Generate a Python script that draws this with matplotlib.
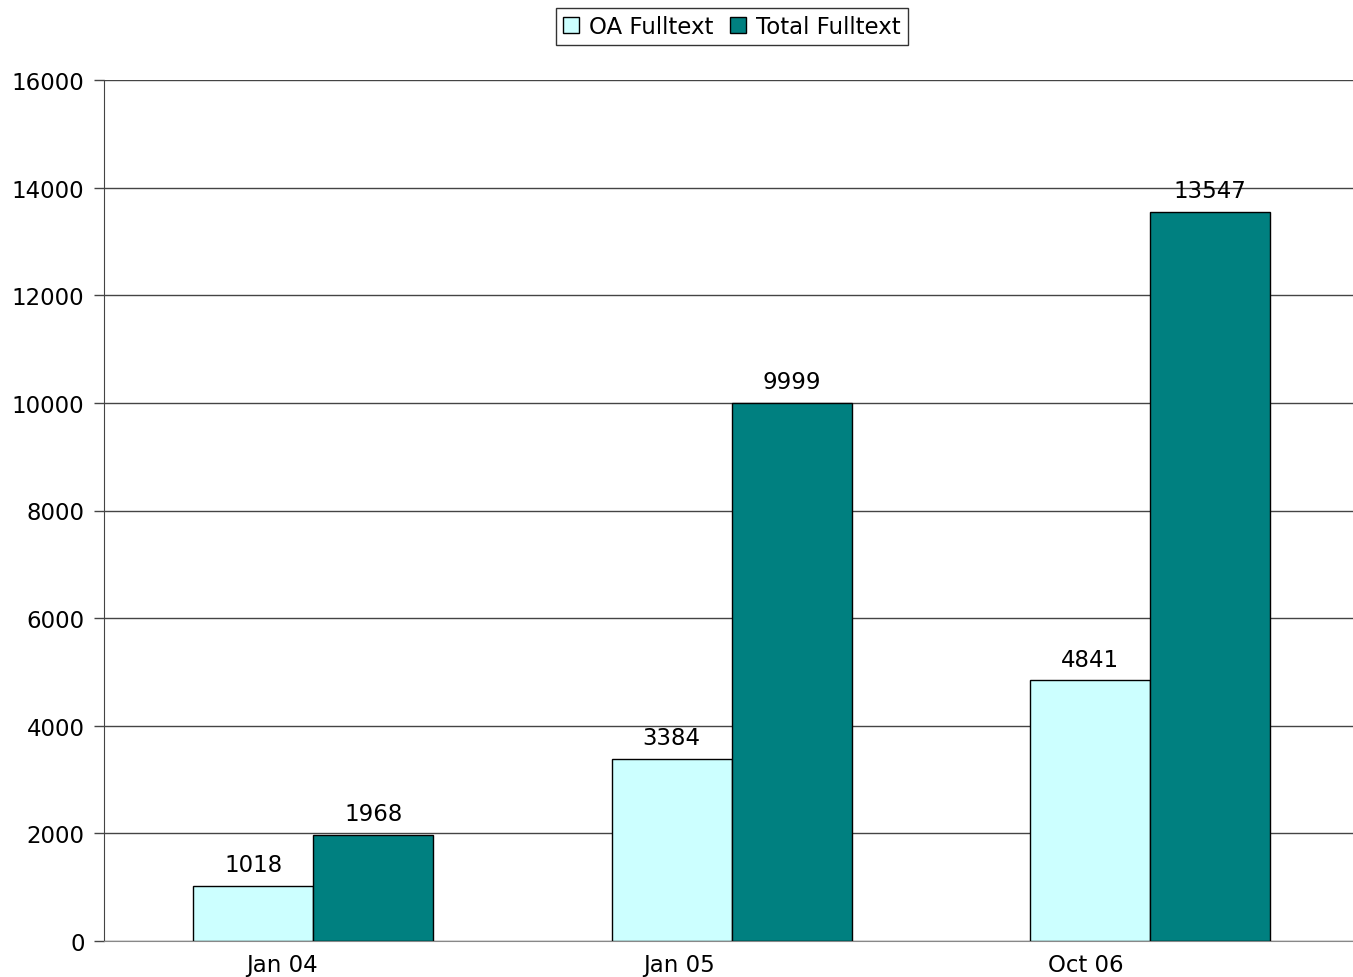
import numpy as np
import matplotlib.pyplot as plt
from matplotlib.patches import Patch

categories = ["Jan 04", "Jan 05", "Oct 06"]
oa_fulltext = [1018, 3384, 4841]
total_fulltext = [1968, 9999, 13547]

plt.rcParams["font.family"] = "DejaVu Sans"
fs = 16.5

fig = plt.figure(figsize=(13.53, 9.78), dpi=100)
ax = fig.add_axes([104 / 1353, 36 / 978, 1255.5 / 1353, 861 / 978])

x = np.arange(len(categories))
w = 0.2867
b1 = ax.bar(x - w / 2, oa_fulltext, w, color="#CCFFFF", edgecolor="black", linewidth=1, zorder=3)
b2 = ax.bar(x + w / 2, total_fulltext, w, color="#008080", edgecolor="black", linewidth=1, zorder=3)
ax.bar_label(b1, padding=7, fontsize=fs)
ax.bar_label(b2, padding=7, fontsize=fs)

ax.set_xlim(-0.5, 2.5)
ax.set_ylim(0, 16000)
ax.set_yticks(np.arange(0, 16001, 2000))
# excel drifts the category labels left of the group centres
ax.set_xticks(x + np.array([-0.074, -0.127, -0.155]))
ax.set_xticklabels(categories)
ax.tick_params(axis="x", length=0, pad=9, labelsize=fs)
ax.tick_params(axis="y", length=7, width=1, color="#444444", pad=7, labelsize=fs)
ax.yaxis.grid(True, color="#444444", linewidth=1)
ax.set_axisbelow(True)
for s in ["top", "right"]:
    ax.spines[s].set_visible(False)
ax.spines["left"].set_color("#444444")
ax.spines["bottom"].set_color("#888888")

handles = [Patch(facecolor="#CCFFFF", edgecolor="black"), Patch(facecolor="#008080", edgecolor="black")]
fig.legend(handles, ["OA Fulltext", "Total Fulltext"], loc="upper center",
           bbox_to_anchor=(732 / 1353, 1 - 9 / 978), ncol=2, fontsize=fs, frameon=True,
           fancybox=False, edgecolor="black", handlelength=0.7, handleheight=0.7,
           handletextpad=0.45, columnspacing=0.7, borderpad=0.3, borderaxespad=0)

fig.savefig("out.png", dpi=100)
plt.close(fig)
